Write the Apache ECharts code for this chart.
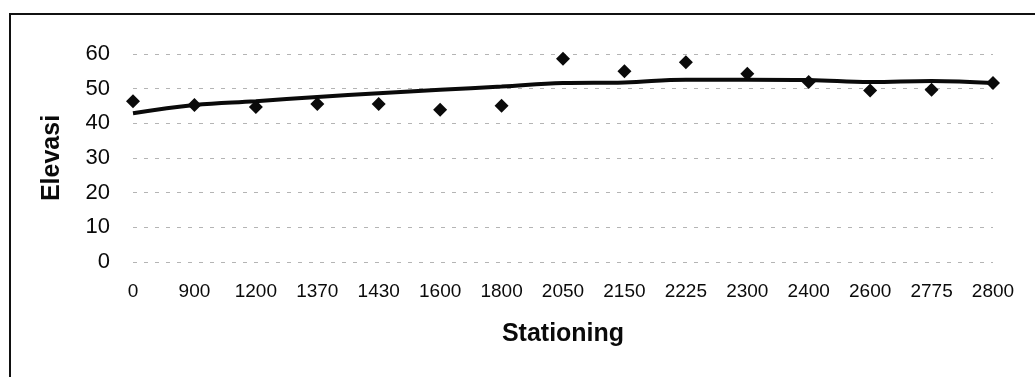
<!DOCTYPE html>
<html>
<head>
<meta charset="utf-8">
<script src="https://cdn.jsdelivr.net/npm/echarts@6/dist/echarts.min.js"></script>
<style>
  html, body { margin: 0; padding: 0; background: #ffffff; }
  #chart { width: 1035px; height: 377px; }
</style>
</head>
<body>
<div id="chart"></div>
<script>
// Stationing (m) along the route
const stations = ['0', '900', '1200', '1370', '1430', '1600', '1800', '2050', '2150', '2225', '2300', '2400', '2600', '2775', '2800'];
// Measured ground elevation at each station
const elevasiTitik = [46.4, 45.3, 44.7, 45.6, 45.6, 43.9, 45.1, 58.6, 55.0, 57.6, 54.3, 51.9, 49.5, 49.7, 51.6];
// Design grade line
const elevasiRencana = [42.9, 45.3, 46.4, 47.6, 48.7, 49.7, 50.6, 51.6, 51.8, 52.6, 52.6, 52.5, 51.9, 52.2, 51.6];
// Y-axis ticks
const yMin = 0, yMax = 60, yStep = 10;

const chart = echarts.init(document.getElementById('chart'), null, { renderer: 'canvas' });
const textColor = '#0a0a0a';
const font = 'Liberation Sans, Arial, sans-serif';

chart.setOption({
  backgroundColor: '#ffffff',
  animation: false,
  graphic: [{
    type: 'polyline',
    shape: { points: [[10, 400], [10, 14], [1040, 14]] },
    style: { stroke: '#111111', lineWidth: 2, fill: null },
    silent: true
  }],
  grid: { left: 133, right: 42, top: 54, bottom: 115, containLabel: false },
  xAxis: {
    type: 'category',
    data: stations,
    boundaryGap: false,
    name: 'Stationing',
    nameLocation: 'middle',
    nameGap: 60,
    nameTextStyle: { fontFamily: font, fontWeight: 'bold', fontSize: 25, color: textColor },
    axisLine: { show: false },
    axisTick: { show: false },
    axisLabel: { fontFamily: font, fontSize: 19, color: textColor, margin: 20, interval: 0 },
    splitLine: { show: false }
  },
  yAxis: {
    type: 'value',
    min: yMin, max: yMax, interval: yStep,
    name: 'Elevasi',
    nameLocation: 'middle',
    nameGap: 68,
    nameRotate: 90,
    nameTextStyle: { fontFamily: font, fontWeight: 'bold', fontSize: 25, color: textColor },
    axisLine: { show: false },
    axisTick: { show: false },
    axisLabel: { fontFamily: font, fontSize: 22, color: textColor, margin: 23 },
    splitLine: { show: true, lineStyle: { color: '#b4b4b4', width: 1, type: [4, 7] } }
  },
  series: [
    {
      name: 'Rencana',
      type: 'line',
      data: elevasiRencana,
      smooth: 0.4,
      symbol: 'none',
      lineStyle: { color: '#0a0a0a', width: 4 },
      z: 2
    },
    {
      name: 'Titik',
      type: 'scatter',
      data: elevasiTitik,
      symbol: 'diamond',
      symbolSize: [14, 14],
      itemStyle: { color: '#0a0a0a', opacity: 1 },
      z: 3
    }
  ]
});
</script>
</body>
</html>
